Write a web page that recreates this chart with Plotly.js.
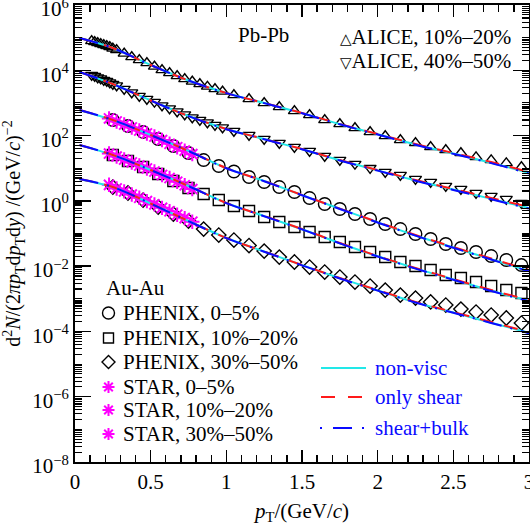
<!DOCTYPE html>
<html>
<head>
<meta charset="utf-8">
<script src="https://cdn.plot.ly/plotly-3.0.1.min.js"></script>
<style>html,body{margin:0;padding:0;background:#fff;}#plot{width:530px;height:529px;}</style>
</head>
<body>
<div id="plot"></div>
<script>
// ---------- data ----------
const ptAlice = [0.11,0.13,0.15,0.17,0.19,0.21,0.23,0.25,0.275,0.325,0.375,0.425,0.475,0.525,0.575,0.625,0.675,0.725,0.775,0.825,0.875,0.925,0.975,1.05,1.15,1.25,1.35,1.45,1.55,1.65,1.75,1.85,1.95,2.05,2.15,2.25,2.35,2.45,2.55,2.65,2.75,2.85,2.95];
const alice10_20 = [78900,73500,68500,63800,59500,55500,51700,46500,41800,32700,25500,20700,16700,13100,10200,8260,6680,5410,4530,3800,3180,2670,2240,1750,1320,995,750,565,427,300,226,171,129,97,73.1,59.2,44.7,36.1,29.2,22.0,17.8,14.4,10.9];
const alice40_50 = [7160,6680,6010,5600,5040,4700,4230,3800,3420,2670,2080,1630,1320,1070,834,675,546,442,357,300,251,211,177,138,104,78.5,59.2,44.7,33.7,23.7,17.8,13.5,10.1,7.65,6.19,4.67,3.78,2.85,2.31,1.74,1.41,1.14,0.86];

const ptPhenix = [0.25,0.35,0.45,0.55,0.65,0.75,0.85,0.95,1.05,1.15,1.25,1.35,1.45,1.55,1.65,1.75,1.85,1.95,2.05,2.15,2.25,2.35,2.45,2.55,2.65,2.75,2.85,2.95];
const phenix0_5 = [300,196,129,78.5,47.9,29.2,17.8,11.7,7.93,5.37,3.78,2.65,1.87,1.22,0.80,0.562,0.395,0.278,0.195,0.137,0.0964,0.0678,0.0476,0.0359,0.0271,0.0204,0.0154,0.0108];
const phenix10_20 = [25.4,16.6,10.9,6.64,4.06,2.47,1.62,1.06,0.695,0.489,0.320,0.225,0.158,0.111,0.078,0.0548,0.0385,0.0271,0.0190,0.0134,0.0101,0.0076,0.00535,0.00433,0.00326,0.00246,0.00185,0.00150];
const phenix30_50 = [2.65,1.74,1.06,0.647,0.395,0.241,0.137,0.0898,0.0631,0.0428,0.0290,0.0190,0.0134,0.0094,0.0066,0.00464,0.00326,0.00246,0.00185,0.00130,0.00105,0.00080,0.000644,0.000485,0.000393,0.000318,0.000258,0.000181];

const ptStar = [0.225,0.275,0.325,0.375,0.425,0.475,0.525,0.575,0.625,0.675,0.725,0.775];
const star0_5 = [334,270,218,177,143,116,93.5,73,56,44,34.5,27];
const star10_20 = [28.2,22.8,18.5,15.0,12.1,9.8,7.9,6.2,5.0,3.85,3.0,2.3];
const star30_50 = [3.1,2.4,1.95,1.56,1.24,0.98,0.78,0.61,0.48,0.375,0.295,0.23];

// hydro model curves
const ptModel = [0.03,0.25,0.5,0.75,1.0,1.25,1.5,1.75,2.0,2.25,2.5,2.75,3.0];
const shearA = [97500,48200,14500,4860,2010,995,491,226,112,55.1,29.2,15.5,7.65];
const bulkA  = [97500,48200,14500,4860,2000,985,484,221,108,52.5,27.5,14.3,6.9];
const idealA = [97000,48000,14500,4880,2020,995,488,223,110,53.5,28.2,14.7,7.1];
const shearB = [8860,3800,1190,397,159,78.5,38.7,17.8,8.81,4.35,2.31,1.22,0.647];
const bulkB  = [8860,3800,1185,394,157,77.3,37.9,17.2,8.45,4.13,2.16,1.12,0.58];
const idealB = [8800,3790,1195,399,159,78,38.2,17.5,8.6,4.22,2.22,1.15,0.6];
const shearC = [607,300,104,33.7,10.1,4.06,1.51,0.58,0.225,0.0898,0.0385,0.0171,0.0076];
const bulkC  = [607,300,104,33.5,10.0,4.0,1.49,0.565,0.217,0.0858,0.0365,0.0159,0.0069];
const idealC = [600,298,104,33.8,10.1,4.05,1.5,0.572,0.220,0.0870,0.0372,0.0163,0.0071];
const shearD = [51.4,25.4,8.81,2.85,0.86,0.343,0.137,0.0511,0.0204,0.00875,0.00403,0.00185,0.000916];
const bulkD  = [51.4,25.4,8.8,2.83,0.853,0.338,0.134,0.0497,0.0197,0.00840,0.00382,0.00173,0.00084];
const idealD = [51,25.3,8.82,2.86,0.86,0.342,0.135,0.0503,0.0200,0.00855,0.0039,0.00177,0.00086];
const shearE = [4.67,2.65,0.830,0.241,0.0728,0.0281,0.0108,0.00433,0.00185,0.00080,0.000393,0.000194,0.0000959];
const bulkE  = [4.67,2.65,0.826,0.239,0.0720,0.0277,0.0106,0.00420,0.00178,0.000765,0.000372,0.000182,0.0000885];
const idealE = [4.62,2.63,0.830,0.242,0.0730,0.0280,0.0107,0.00428,0.00181,0.000775,0.000378,0.000185,0.000091];

const xTickVals = [0,0.5,1,1.5,2,2.5,3];
const xTickText = ['0','0.5','1','1.5','2','2.5','3'];
const yTickVals = [1e-8,1e-6,1e-4,1e-2,1,1e2,1e4,1e6];
const yTickText = ['10<sup>−8</sup>','10<sup>−6</sup>','10<sup>−4</sup>','10<sup>−2</sup>','10<sup>0</sup>','10<sup>2</sup>','10<sup>4</sup>','10<sup>6</sup>'];

// ---------- traces ----------
const SERIF = 'Liberation Serif';
const traces = [];
function markers(x, y, symbol, size, color, lw) {
  traces.push({x: x, y: y, type: 'scatter', mode: 'markers', hoverinfo: 'skip',
    marker: {symbol: symbol, size: size, color: color, line: {color: color, width: lw}}});
}
markers(ptAlice, alice10_20, 'triangle-up-open', 10.5, 'black', 1.4);
markers(ptAlice, alice40_50, 'triangle-down-open', 10.5, 'black', 1.4);
markers(ptPhenix, phenix0_5, 'circle-open', 12.5, 'black', 1.4);
markers(ptPhenix, phenix10_20, 'square-open', 11, 'black', 1.4);
markers(ptPhenix, phenix30_50, 'diamond-open', 11, 'black', 1.4);
markers(ptStar, star0_5, 'asterisk-open', 12, '#ff00ff', 2);
markers(ptStar, star10_20, 'asterisk-open', 12, '#ff00ff', 2);
markers(ptStar, star30_50, 'asterisk-open', 12, '#ff00ff', 2);

function curve(y, color, dash) {
  traces.push({x: ptModel, y: y, type: 'scatter', mode: 'lines', hoverinfo: 'skip',
    line: {color: color, width: 2, dash: dash, shape: 'spline', smoothing: 1}});
}
const CYAN = '#22e8e8', RED = '#ff1a1a', BLUE = '#0a0aff';
const DASH_RED = '14px,11px', DASH_BLUE = '19px,9px,2px,9px';
[idealA, idealB, idealC, idealD, idealE].forEach(y => curve(y, CYAN, 'solid'));
[shearA, shearB, shearC, shearD, shearE].forEach(y => curve(y, RED, DASH_RED));
[bulkA, bulkB, bulkC, bulkD, bulkE].forEach(y => curve(y, BLUE, DASH_BLUE));

// minor log ticks
const minorY = [];
for (let e = -8; e < 6; e++) for (let k = 1; k <= 9; k++) {
  const v = k * Math.pow(10, e);
  if (!(k === 1 && e % 2 === 0)) minorY.push(v);
}

// ---------- legend decorations ----------
const PX = 454, PY = 457;           // plot size in px
const px = v => (v - 75) / PX;      // page x -> paper
const py = v => (462 - v) / PY;     // page y -> paper

const symX = px(108.5), txtX = px(121);
const rows = [313, 338, 362, 387, 410, 434];
const rowText = ['PHENIX, 0–5%', 'PHENIX, 10%–20%', 'PHENIX, 30%–50%', 'STAR, 0–5%', 'STAR, 10%–20%', 'STAR, 30%–50%'];
const TRI = s => '<span style="font-family:DejaVu Sans;font-size:15px">' + s + '</span>';

const annotations = [
  {text: 'Pb-Pb', x: px(263), y: py(35), xanchor: 'center', yanchor: 'middle'},
  {text: TRI('△') + 'ALICE, 10%–20%', x: px(513), y: py(37), xanchor: 'right', yanchor: 'middle'},
  {text: TRI('▽') + 'ALICE, 40%–50%', x: px(513), y: py(61), xanchor: 'right', yanchor: 'middle'},
  {text: 'Au-Au', x: px(104), y: py(288), xanchor: 'left', yanchor: 'middle'},
  {text: 'non-visc', x: px(373), y: py(368), xanchor: 'left', yanchor: 'middle', font: {color: BLUE}},
  {text: 'only shear', x: px(373), y: py(397), xanchor: 'left', yanchor: 'middle', font: {color: BLUE}},
  {text: 'shear+bulk', x: px(373), y: py(428), xanchor: 'left', yanchor: 'middle', font: {color: BLUE}}
];
rows.forEach((r, i) => annotations.push({text: rowText[i], x: txtX, y: py(r), xanchor: 'left', yanchor: 'middle'}));
annotations.forEach(a => {
  a.xref = 'paper'; a.yref = 'paper'; a.showarrow = false;
  a.font = Object.assign({family: SERIF, size: 21, color: 'black'}, a.font || {});
});

function pshape(o, yr) {
  return Object.assign({xref: 'paper', yref: 'paper', xsizemode: 'pixel', ysizemode: 'pixel',
    xanchor: symX, yanchor: py(yr), layer: 'above'}, o);
}
const shapes = [
  pshape({type: 'circle', x0: -6, x1: 6, y0: -6, y1: 6, line: {color: 'black', width: 1.4}}, rows[0]),
  pshape({type: 'rect', x0: -5, x1: 5, y0: -5, y1: 5, line: {color: 'black', width: 1.4}}, rows[1]),
  pshape({type: 'path', path: 'M0,6.5 L6.5,0 L0,-6.5 L-6.5,0 Z', line: {color: 'black', width: 1.4}}, rows[2])
];
[3, 4, 5].forEach(i => shapes.push(pshape({type: 'path',
  path: 'M-6,0 L6,0 M0,-6 L0,6 M-4.3,-4.3 L4.3,4.3 M-4.3,4.3 L4.3,-4.3',
  line: {color: '#ff00ff', width: 2}}, rows[i])));
shapes.push({type: 'line', xref: 'paper', yref: 'paper', x0: px(321), x1: px(366), y0: py(368), y1: py(368), line: {color: CYAN, width: 2}});
shapes.push({type: 'line', xref: 'paper', yref: 'paper', x0: px(321), x1: px(366), y0: py(397), y1: py(397), line: {color: RED, width: 2, dash: '14px,13px'}});
shapes.push({type: 'line', xref: 'paper', yref: 'paper', x0: px(320), x1: px(366), y0: py(428), y1: py(428), line: {color: BLUE, width: 2, dash: '2px,11px,19px,10px'}});

const layout = {
  width: 530, height: 529,
  margin: {l: 75, r: 1, t: 5, b: 67},
  paper_bgcolor: 'white', plot_bgcolor: 'white',
  showlegend: false,
  font: {family: SERIF, size: 20, color: 'black'},
  xaxis: {
    range: [0, 3], tickmode: 'array', tickvals: xTickVals, ticktext: xTickText,
    ticklabeloverflow: 'allow',
    ticks: 'inside', ticklen: 12, tickwidth: 1.3, tickcolor: 'black',
    minor: {dtick: 0.1, tick0: 0, ticks: 'inside', ticklen: 7, tickwidth: 1.3, tickcolor: 'black'},
    showline: true, linewidth: 2, linecolor: 'black', mirror: 'allticks',
    showgrid: false, zeroline: false,
    tickfont: {family: SERIF, size: 21, color: 'black'},
    title: {text: '<i>p</i><sub>T</sub>/(GeV/<i>c</i>)', font: {family: SERIF, size: 21, color: 'black'}, standoff: 10}
  },
  yaxis: {
    type: 'log', range: [-8, 6], tickmode: 'array', tickvals: yTickVals, ticktext: yTickText,
    ticklabeloverflow: 'allow', ticklabelshift: 4,
    ticks: 'inside', ticklen: 16, tickwidth: 1.3, tickcolor: 'black',
    minor: {tickmode: 'array', tickvals: minorY, ticks: 'inside', ticklen: 7, tickwidth: 1.1, tickcolor: 'black'},
    showline: true, linewidth: 2, linecolor: 'black', mirror: 'allticks',
    showgrid: false, zeroline: false,
    tickfont: {family: SERIF, size: 21, color: 'black'},
    title: {text: 'd<sup>2</sup><i>N</i>/(2<i>π</i><i>p</i><sub>T</sub>d<i>p</i><sub>T</sub>d<i>y</i>) /(GeV/<i>c</i>)<sup>−2</sup>',
      font: {family: SERIF, size: 20, color: 'black'}, standoff: 6}
  },
  annotations: annotations,
  shapes: shapes
};

Plotly.newPlot('plot', traces, layout, {staticPlot: true, displayModeBar: false});
</script>
</body>
</html>
